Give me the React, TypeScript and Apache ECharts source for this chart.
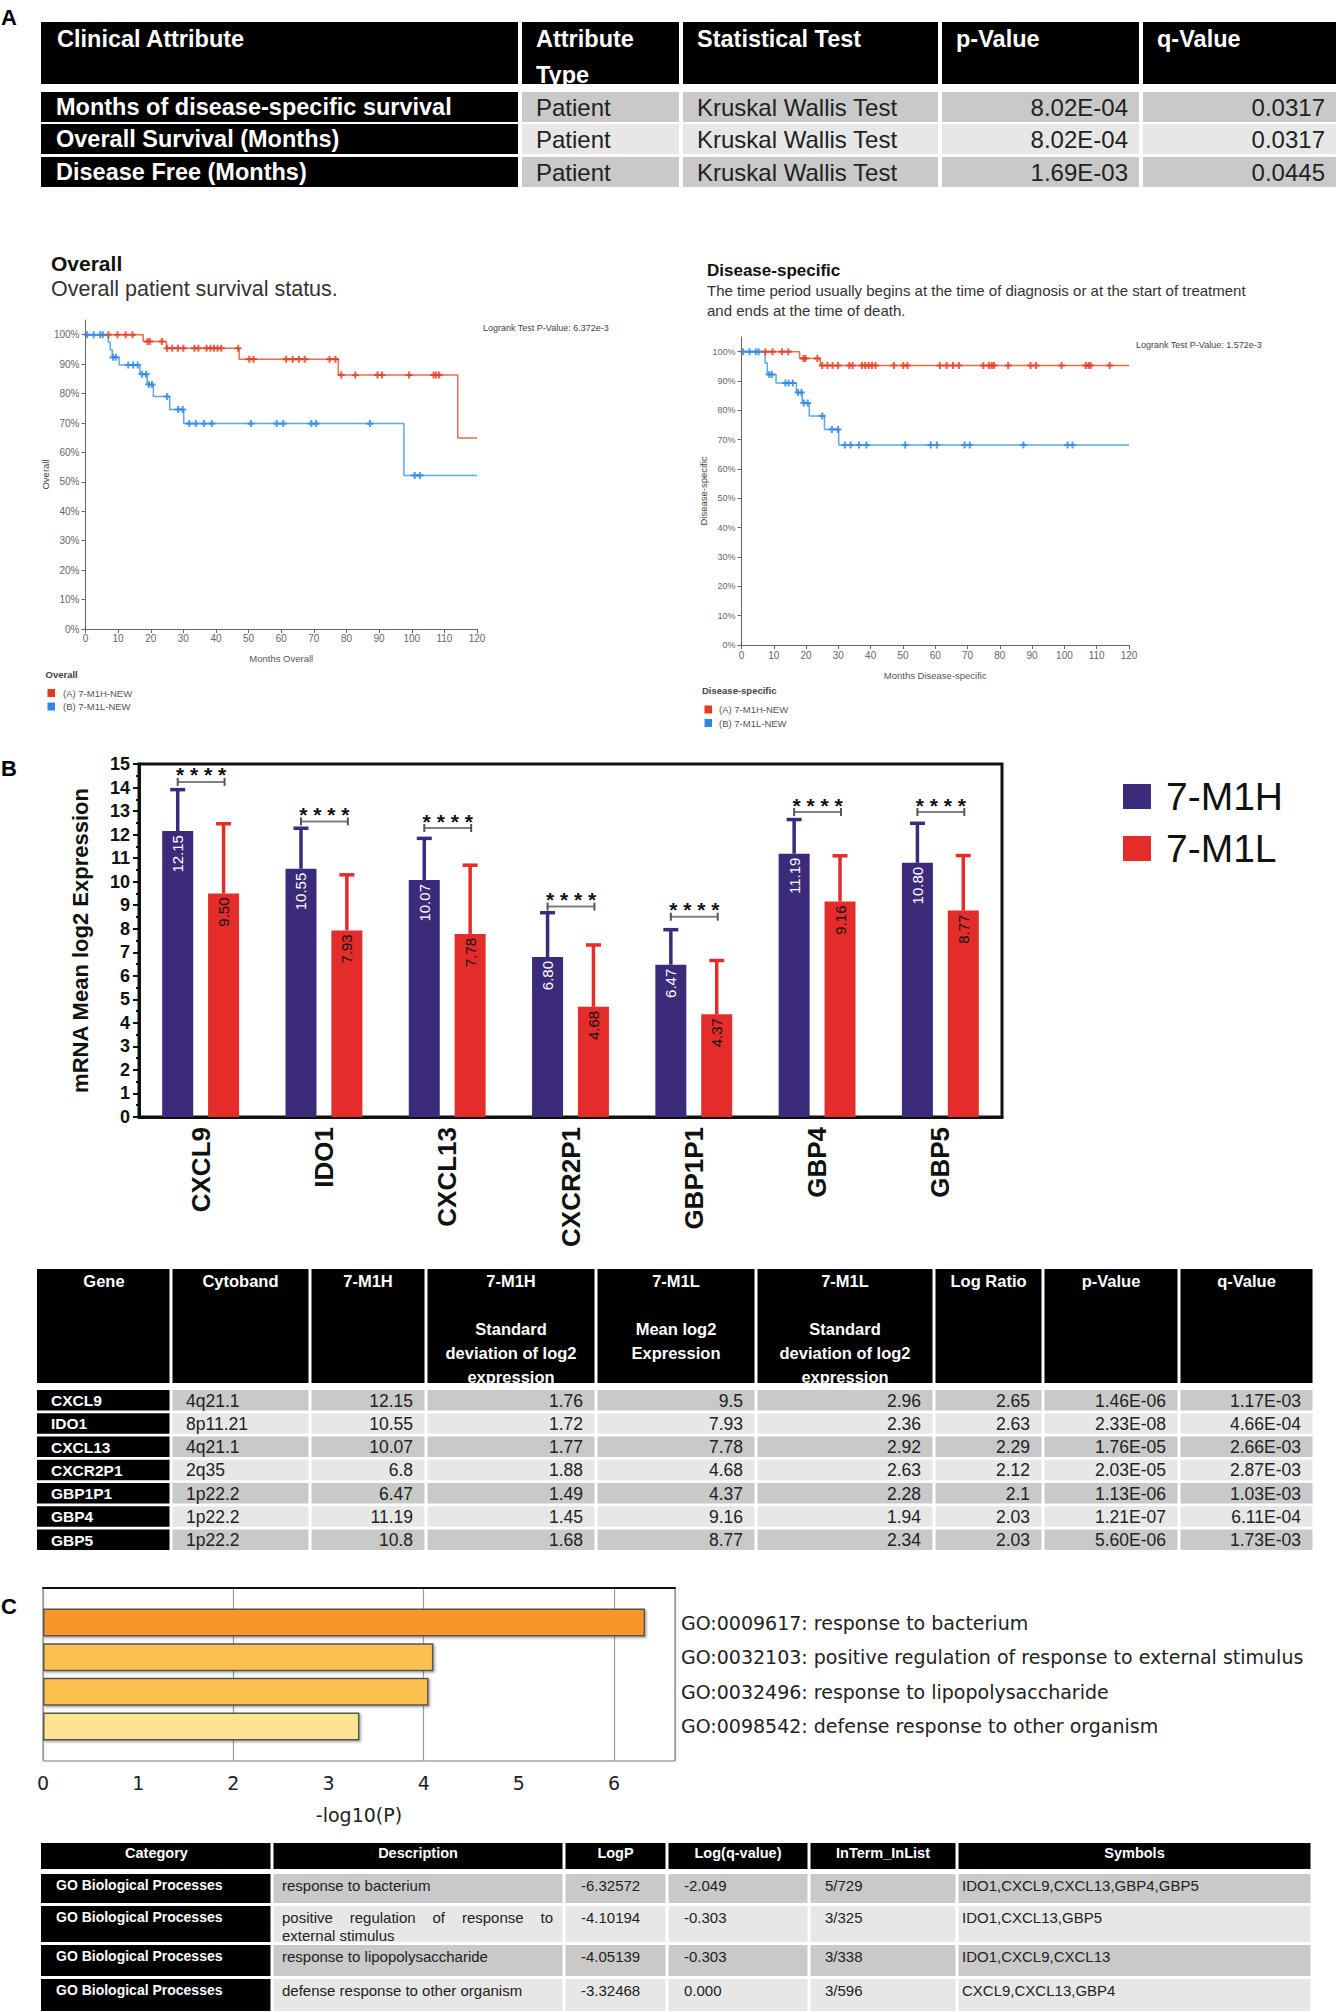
import React, { useEffect, useRef } from 'react';
import * as echarts from 'echarts';

// ---------------- DATA ----------------
// Panel A table
const tableAHeader = ['Clinical Attribute', 'Attribute\nType', 'Statistical Test', 'p-Value', 'q-Value'];
const tableAAttr = ['Months of disease-specific survival', 'Overall Survival (Months)', 'Disease Free (Months)'];
const tableAType = ['Patient', 'Patient', 'Patient'];
const tableATest = ['Kruskal Wallis Test', 'Kruskal Wallis Test', 'Kruskal Wallis Test'];
const tableAP = ['8.02E-04', '8.02E-04', '1.69E-03'];
const tableAQ = ['0.0317', '0.0317', '0.0445'];

// Kaplan-Meier curves: [month, survival %] at each drop
const kmGroups = ['(A) 7-M1H-NEW', '(B) 7-M1L-NEW'];
const kmPctTicks = [0, 10, 20, 30, 40, 50, 60, 70, 80, 90, 100];
const osHighSteps = [[0, 100], [17.7, 97.7], [24.8, 95.4], [47.1, 91.7], [77.5, 86.3], [114.1, 64.9], [120, 64.9]];
const osHighCensor = [7.0, 9.8, 12.3, 14.4, 19.0, 19.7, 23.4, 25.0, 26.6, 28.3, 30.0, 33.4, 34.6, 37.1, 38.3, 39.4, 40.5, 41.6, 46.8, 50.2, 51.5, 61.5, 63.5, 65.4, 67.2, 74.8, 76.6, 78.4, 82.7, 89.5, 90.9, 99.2, 106.7, 107.5, 108.4];
const osLowSteps = [[0, 100], [7.0, 97.4], [7.6, 94.9], [8.2, 92.3], [10.3, 89.7], [16.7, 86.6], [18.9, 83.1], [20.8, 79.0], [25.8, 74.6], [30.1, 69.8], [97.6, 52.2], [120, 52.2]];
const osLowCensor = [0.5, 2.5, 4.5, 5.3, 8.4, 9.3, 13.1, 14.6, 16.0, 17.3, 18.6, 19.4, 20.4, 25.0, 28.4, 29.8, 31.8, 33.8, 36.3, 38.7, 50.7, 58.6, 60.6, 69.2, 70.7, 87.2, 100.9, 102.5];
const dsHighSteps = [[0, 100], [18.0, 97.7], [24.4, 95.3], [120, 95.3]];
const dsHighCensor = [7.4, 9.6, 12.5, 14.5, 19.2, 19.8, 23.5, 25.0, 26.6, 28.2, 29.9, 33.4, 34.4, 37.3, 38.3, 39.4, 40.4, 41.5, 47.2, 50.1, 51.4, 61.4, 63.5, 65.5, 67.3, 74.9, 76.6, 77.5, 78.2, 82.6, 89.5, 91.2, 99.1, 106.6, 107.5, 108.1, 114.0];
const dsLowSteps = [[0, 100], [7.3, 96.1], [8.0, 92.2], [10.7, 89.3], [17.0, 86.1], [18.8, 82.5], [21.0, 78.1], [25.7, 73.5], [30.1, 68.2], [120, 68.2]];
const dsLowCensor = [0.5, 2.5, 4.4, 5.3, 8.6, 9.4, 13.6, 14.6, 15.9, 17.5, 18.6, 19.3, 20.5, 25.0, 28.0, 29.9, 32.0, 33.8, 36.4, 38.7, 50.7, 58.6, 60.5, 69.1, 70.7, 87.3, 101.0, 102.5];

// Panel B
const genes = ['CXCL9', 'IDO1', 'CXCL13', 'CXCR2P1', 'GBP1P1', 'GBP4', 'GBP5'];
const cytoband = ['4q21.1', '8p11.21', '4q21.1', '2q35', '1p22.2', '1p22.2', '1p22.2'];
const meanH = [12.15, 10.55, 10.07, 6.8, 6.47, 11.19, 10.8];
const sdH = [1.76, 1.72, 1.77, 1.88, 1.49, 1.45, 1.68];
const meanL = [9.5, 7.93, 7.78, 4.68, 4.37, 9.16, 8.77];
const sdL = [2.96, 2.36, 2.92, 2.63, 2.28, 1.94, 2.34];
const logRatio = [2.65, 2.63, 2.29, 2.12, 2.1, 2.03, 2.03];
const pValB = ['1.46E-06', '2.33E-08', '1.76E-05', '2.03E-05', '1.13E-06', '1.21E-07', '5.60E-06'];
const qValB = ['1.17E-03', '4.66E-04', '2.66E-03', '2.87E-03', '1.03E-03', '6.11E-04', '1.73E-03'];
const sigHeights = [14.24, 12.56, 12.28, 8.94, 8.51, 12.96, 12.96];
const sigText = '* * * *';
const tableBHeader = ['Gene', 'Cytoband', '7-M1H', '7-M1H\n\nStandard\ndeviation of log2\nexpression', '7-M1L\n\nMean log2\nExpression', '7-M1L\n\nStandard\ndeviation of log2\nexpression', 'Log Ratio', 'p-Value', 'q-Value'];

// Panel C
const goIds = ['GO:0009617', 'GO:0032103', 'GO:0032496', 'GO:0098542'];
const goDesc = ['response to bacterium', 'positive regulation of response to external stimulus', 'response to lipopolysaccharide', 'defense response to other organism'];
const goCategory = ['GO Biological Processes', 'GO Biological Processes', 'GO Biological Processes', 'GO Biological Processes'];
const goLogP = [-6.32572, -4.10194, -4.05139, -3.32468];
const goLogQ = ['-2.049', '-0.303', '-0.303', '0.000'];
const goInTerm = ['5/729', '3/325', '3/338', '3/596'];
const goSymbols = ['IDO1,CXCL9,CXCL13,GBP4,GBP5', 'IDO1,CXCL13,GBP5', 'IDO1,CXCL9,CXCL13', 'CXCL9,CXCL13,GBP4'];
const goTicks = [0, 1, 2, 3, 4, 5, 6];
const tableCHeader = ['Category', 'Description', 'LogP', 'Log(q-value)', 'InTerm_InList', 'Symbols'];

// ---------------- STYLE ----------------
const FONT = "'Liberation Sans', Arial, Helvetica, sans-serif";
const NARROW = "'Liberation Sans Narrow', 'Liberation Sans', Arial, sans-serif";
const DJV = "'DejaVu Sans', sans-serif";
const RED_LINE = '#ef6a50';
const RED_MARK = '#e2391f';
const BLUE_LINE = '#5aa8ee';
const BLUE_MARK = '#2c86e2';
const PURPLE = '#3c2a7b';
const BRED = '#e42c2b';
const GREY1 = '#c9c9c9';
const GREY2 = '#e7e7e7';
const PLUS = 'path://M0,2.1H6V3.9H0Z M2.1,0H3.9V6H2.1Z';
const goColors = ['#f8962c', '#fdbf4f', '#fdbf4f', '#fee392'];
const BAR_W = 31;
const BAR_GAP = 0.48;
const BAR_OFF = (BAR_W * (1 + BAR_GAP)) / 2;

function survAt(steps: number[][], t: number) {
  let s = steps[0][1];
  for (const [x, y] of steps) if (x <= t) s = y;
  return s;
}

const T = (x: number, y: number, text: string, o: any = {}) => ({
  type: 'text',
  x,
  y,
  silent: true,
  z: 20,
  style: {
    text,
    fill: o.fill ?? '#222',
    fontSize: o.size ?? 14,
    fontFamily: o.family ?? FONT,
    fontWeight: o.weight ?? 'normal',
    align: o.align ?? 'left',
    textAlign: o.align ?? 'left',
    verticalAlign: o.va ?? 'middle',
    textVerticalAlign: o.va ?? 'middle',
    lineHeight: o.lh,
  },
});
const R = (x: number, y: number, w: number, h: number, fill: string) => ({
  type: 'rect',
  silent: true,
  z: 10,
  shape: { x, y, width: w, height: h },
  style: { fill },
});

let measureCtx: CanvasRenderingContext2D | null = null;
function textW(s: string, font: string) {
  if (!measureCtx) measureCtx = document.createElement('canvas').getContext('2d');
  measureCtx!.font = font;
  return measureCtx!.measureText(s).width;
}

function wrapJustify(text: string, x0: number, x1: number, y: number, lh: number, size: number) {
  const font = `${size}px ${FONT}`;
  const words = text.split(' ');
  const lines: string[][] = [];
  let cur: string[] = [];
  for (const w of words) {
    const test = [...cur, w].join(' ');
    if (cur.length && textW(test, font) > x1 - x0) {
      lines.push(cur);
      cur = [w];
    } else cur.push(w);
  }
  if (cur.length) lines.push(cur);
  const out: any[] = [];
  lines.forEach((ln, li) => {
    const yy = y + li * lh;
    if (li === lines.length - 1 || ln.length === 1) {
      out.push(T(x0, yy, ln.join(' '), { size }));
    } else {
      const ws = ln.map((w) => textW(w, font));
      const gap = (x1 - x0 - ws.reduce((a, b) => a + b, 0)) / (ln.length - 1);
      let x = x0;
      ln.forEach((w, i) => {
        out.push(T(x, yy, w, { size }));
        x += ws[i] + gap;
      });
    }
  });
  return out;
}

function buildGraphics() {
  const g: any[] = [];
  // panel letters
  g.push(T(1, 17, 'A', { size: 22, weight: 'bold', fill: '#000' }));
  g.push(T(1, 768, 'B', { size: 22, weight: 'bold', fill: '#000' }));
  g.push(T(1, 1606, 'C', { size: 22, weight: 'bold', fill: '#000' }));

  // ---- Table A ----
  const cA = [41, 520, 681, 940, 1141, 1338];
  for (let i = 0; i < 5; i++) {
    const x0 = cA[i] + (i ? 2 : 0);
    const x1 = cA[i + 1] - 2;
    g.push(R(x0, 22, x1 - x0, 62, '#000'));
    g.push(T(cA[i] + 16, 21, tableAHeader[i], { size: 23.5, weight: 'bold', fill: '#fff', va: 'top', lh: 36 }));
  }
  const rAy = [92, 124, 157];
  const rAcols = [tableAAttr, tableAType, tableATest, tableAP, tableAQ];
  rAy.forEach((y, r) => {
    for (let i = 0; i < 5; i++) {
      const x0 = cA[i] + (i ? 2 : 0);
      const x1 = cA[i + 1] - 2;
      g.push(R(x0, y, x1 - x0, 30, i === 0 ? '#000' : r % 2 === 0 ? GREY1 : GREY2));
      const txt = rAcols[i][r];
      if (i === 0) g.push(T(56, y + 15, txt, { size: 23.5, weight: 'bold', fill: '#fff' }));
      else if (i < 3) g.push(T(cA[i] + 16, y + 15, txt, { size: 24, fill: '#222' }));
      else g.push(T(cA[i + 1] - 13, y + 15, txt, { size: 24, fill: '#222', align: 'right' }));
    }
  });

  // ---- KM titles / legends ----
  g.push(T(51, 263, 'Overall', { size: 21, weight: 'bold', fill: '#111' }));
  g.push(T(51, 289, 'Overall patient survival status.', { size: 21.5, fill: '#333' }));
  g.push(T(483, 328, 'Logrank Test P-Value: 6.372e-3', { size: 9, fill: '#444' }));
  g.push(T(45.5, 674, 'Overall', { size: 9.5, weight: 'bold', fill: '#444' }));
  g.push(R(47.5, 689, 7.5, 8, RED_MARK));
  g.push(T(63, 693, kmGroups[0], { size: 9.5, fill: '#555' }));
  g.push(R(47.5, 702.5, 7.5, 8, BLUE_MARK));
  g.push(T(63, 706, kmGroups[1], { size: 9.5, fill: '#555' }));

  g.push(T(707, 270, 'Disease-specific', { size: 17, weight: 'bold', fill: '#111' }));
  g.push(
    T(707, 280, 'The time period usually begins at the time of diagnosis or at the start of treatment\nand ends at the time of death.', {
      size: 15,
      fill: '#333',
      va: 'top',
      lh: 20,
    })
  );
  g.push(T(1136, 345, 'Logrank Test P-Value: 1.572e-3', { size: 9, fill: '#444' }));
  g.push(T(702, 690, 'Disease-specific', { size: 9.5, weight: 'bold', fill: '#444' }));
  g.push(R(704.5, 705.5, 7.5, 8, RED_MARK));
  g.push(T(719, 709.5, kmGroups[0], { size: 9.5, fill: '#555' }));
  g.push(R(704.5, 719, 7.5, 8, BLUE_MARK));
  g.push(T(719, 723, kmGroups[1], { size: 9.5, fill: '#555' }));

  // ---- Table B ----
  const cB = [37, 171, 310, 426, 596, 756, 934, 1043, 1179, 1314];
  for (let i = 0; i < 9; i++) {
    const x0 = cB[i] + (i ? 1.5 : 0);
    const x1 = cB[i + 1] - 1.5;
    g.push(R(x0, 1269, x1 - x0, 114, '#000'));
    g.push(T((cB[i] + cB[i + 1]) / 2, 1269, tableBHeader[i], { size: 16.5, weight: 'bold', fill: '#fff', align: 'center', va: 'top', lh: 24 }));
  }
  genes.forEach((gene, r) => {
    const y = 1390 + r * 23.25;
    const vals = [gene, cytoband[r], String(meanH[r]), String(sdH[r]), String(meanL[r]), String(sdL[r]), String(logRatio[r]), pValB[r], qValB[r]];
    for (let i = 0; i < 9; i++) {
      const x0 = cB[i] + (i ? 1.5 : 0);
      const x1 = cB[i + 1] - 1.5;
      g.push(R(x0, y, x1 - x0, 20.5, i === 0 ? '#000' : r % 2 === 0 ? GREY1 : GREY2));
      const cy = y + 10.5;
      if (i === 0) g.push(T(51, cy, vals[i], { size: 15.5, weight: 'bold', fill: '#fff' }));
      else if (i === 1) g.push(T(186, cy, vals[i], { size: 17.5, fill: '#222' }));
      else g.push(T(cB[i + 1] - 13, cy, vals[i], { size: 17.5, fill: '#222', align: 'right' }));
    }
  });

  // ---- Table C ----
  const cC = [41, 272, 564, 667, 809, 957, 1312];
  for (let i = 0; i < 6; i++) {
    const x0 = cC[i] + (i ? 1.5 : 0);
    const x1 = cC[i + 1] - 1.5;
    g.push(R(x0, 1843, x1 - x0, 26, '#000'));
    g.push(T((cC[i] + cC[i + 1]) / 2, 1853, tableCHeader[i], { size: 14.5, weight: 'bold', fill: '#fff', align: 'center' }));
  }
  const rC = [
    [1874, 29],
    [1906, 36],
    [1945, 31],
    [1979, 32],
  ];
  const textX = [56, 282, 581, 684, 825, 962];
  rC.forEach(([y, h], r) => {
    const vals = [goCategory[r], goDesc[r], goLogP[r].toFixed(5), goLogQ[r], goInTerm[r], goSymbols[r]];
    for (let i = 0; i < 6; i++) {
      const x0 = cC[i] + (i ? 1.5 : 0);
      const x1 = cC[i + 1] - 1.5;
      g.push(R(x0, y, x1 - x0, h, i === 0 ? '#000' : r % 2 === 0 ? GREY1 : GREY2));
      const cy = y + 11;
      if (i === 0) g.push(T(textX[i], cy, vals[i], { size: 14, weight: 'bold', fill: '#fff' }));
      else if (i === 1) wrapJustify(vals[i], textX[i], 553, cy, 18.5, 15).forEach((e) => g.push(e));
      else g.push(T(textX[i], cy, vals[i], { size: 15, fill: '#222' }));
    }
  });
  return g;
}

function kmX(gi: number, name: string, gap: number, margin: number) {
  return {
    gridIndex: gi,
    type: 'value',
    min: 0,
    max: 120,
    interval: 10,
    name,
    nameLocation: 'middle',
    nameGap: gap,
    nameTextStyle: { fontSize: 9.5, color: '#555', fontFamily: FONT },
    axisLine: { lineStyle: { color: '#666', width: 1 } },
    axisTick: { length: 4, lineStyle: { color: '#666' } },
    axisLabel: { fontSize: 10, color: '#666', margin, fontFamily: FONT },
    splitLine: { show: false },
  };
}
function kmY(gi: number, name: string, gap: number, size: number) {
  return {
    gridIndex: gi,
    type: 'value',
    min: 0,
    max: 105,
    interval: 10,
    name,
    nameLocation: 'middle',
    nameRotate: 90,
    nameGap: gap,
    nameTextStyle: { fontSize: 9.5, color: '#444', fontFamily: FONT },
    axisLine: { show: true, lineStyle: { color: '#666', width: 1 } },
    axisTick: { show: true, length: 4, lineStyle: { color: '#666' }, customValues: kmPctTicks },
    axisLabel: {
      fontSize: size,
      color: '#666',
      margin: 6,
      fontFamily: FONT,
      customValues: kmPctTicks,
      formatter: (v: number) => (v > 100 ? '' : v + '%'),
    },
    splitLine: { show: false },
  };
}

function kmSeries(gi: number, steps: number[][], censor: number[], name: string, lineC: string, markC: string) {
  return [
    {
      type: 'line',
      name,
      xAxisIndex: gi,
      yAxisIndex: gi,
      data: steps,
      step: 'end',
      symbol: 'none',
      lineStyle: { color: lineC, width: 1.5 },
      z: 2,
    },
    {
      type: 'scatter',
      name: name + ' censored',
      xAxisIndex: gi,
      yAxisIndex: gi,
      data: censor.map((t) => [t, survAt(steps, t)]),
      symbol: PLUS,
      symbolSize: 7,
      itemStyle: { color: markC },
      z: 3,
    },
  ];
}

function errSeries(name: string, means: number[], sds: number[], sign: number, color: string) {
  return {
    type: 'custom',
    name,
    xAxisIndex: 2,
    yAxisIndex: 2,
    encode: { x: 0, y: 1 },
    z: 1,
    data: means.map((m, i) => [i, m, sds[i]]),
    renderItem: (_p: any, api: any) => {
      const i = api.value(0);
      const m = api.value(1);
      const s = api.value(2);
      const p0 = api.coord([i, m]);
      const p1 = api.coord([i, m + s]);
      const x = p0[0] + sign * BAR_OFF;
      return {
        type: 'group',
        children: [
          { type: 'line', shape: { x1: x, y1: p0[1], x2: x, y2: p1[1] }, style: { stroke: color, lineWidth: 3.5 } },
          { type: 'line', shape: { x1: x - 7.5, y1: p1[1], x2: x + 7.5, y2: p1[1] }, style: { stroke: color, lineWidth: 3.5 } },
        ],
      };
    },
  };
}

function buildOption() {
  const goLabels = goIds.map((id, i) => `${id}: ${goDesc[i]}`);
  return {
    animation: false,
    backgroundColor: '#fff',
    textStyle: { fontFamily: FONT },
    graphic: { elements: buildGraphics() },
    legend: [
      {
        data: [
          { name: '7-M1H', itemStyle: { color: PURPLE } },
          { name: '7-M1L', itemStyle: { color: BRED } },
        ],
        orient: 'vertical',
        left: 1118,
        top: 772,
        itemWidth: 28,
        itemHeight: 25,
        itemGap: 13,
        icon: 'rect',
        selectedMode: false,
        textStyle: { fontSize: 39, color: '#111', fontFamily: FONT, lineHeight: 25, padding: [0, 0, 0, 10] },
      },
    ],
    grid: [
      { left: 85.5, top: 320, width: 391.5, height: 309 },
      { left: 741.5, top: 337, width: 387.5, height: 308 },
      { left: 139, top: 764, width: 863, height: 353, show: true, borderColor: '#111', borderWidth: 3 },
      { left: 43, top: 1588, width: 632, height: 173, show: true, borderColor: '#777', borderWidth: 1 },
    ],
    xAxis: [
      kmX(0, 'Months Overall', 24.5, 4),
      kmX(1, 'Months Disease-specific', 25.5, 5),
      {
        gridIndex: 2,
        type: 'category',
        data: genes,
        axisLine: { lineStyle: { color: '#111', width: 3 } },
        axisTick: { alignWithLabel: true, length: 6, lineStyle: { color: '#111', width: 2.5 } },
        axisLabel: { rotate: 90, interval: 0, fontSize: 26, fontWeight: 'bold', color: '#111', margin: 10, fontFamily: FONT },
      },
      {
        gridIndex: 3,
        type: 'value',
        min: 0,
        max: 6.64,
        interval: 1,
        name: '-log10(P)',
        nameLocation: 'middle',
        nameGap: 44,
        nameTextStyle: { fontSize: 19, color: '#222', fontFamily: DJV },
        axisLine: { lineStyle: { color: '#111', width: 2 } },
        axisTick: { length: 6, lineStyle: { color: '#222' }, customValues: goTicks },
        axisLabel: {
          fontSize: 19,
          color: '#222',
          margin: 12,
          fontFamily: DJV,
          customValues: goTicks,
          formatter: (v: number) => (Number.isInteger(v) ? String(v) : ''),
        },
        splitLine: { show: false },
      },
      {
        gridIndex: 3,
        type: 'value',
        position: 'top',
        min: 0,
        max: 6.64,
        interval: 2,
        axisLine: { show: true, lineStyle: { color: '#111', width: 2 } },
        axisTick: { show: false },
        axisLabel: { show: false },
        splitLine: { show: true, lineStyle: { color: '#9a9a9a', width: 1.2 } },
      },
    ],
    yAxis: [
      kmY(0, 'Overall', 33, 10),
      kmY(1, 'Disease-specific', 32, 9),
      {
        gridIndex: 2,
        type: 'value',
        min: 0,
        max: 15,
        interval: 1,
        name: 'mRNA Mean log2 Expression',
        nameLocation: 'middle',
        nameRotate: 90,
        nameGap: 48,
        nameTextStyle: { fontSize: 22, fontWeight: 'bold', color: '#111', fontFamily: FONT },
        axisLine: { show: true, lineStyle: { color: '#111', width: 3 } },
        axisTick: { show: true, length: 6, lineStyle: { color: '#111', width: 2 } },
        minorTick: { show: true, splitNumber: 2, length: 3, lineStyle: { color: '#111', width: 2 } },
        axisLabel: { fontSize: 18, fontWeight: 'bold', color: '#111', margin: 9, fontFamily: FONT },
        splitLine: { show: false },
      },
      {
        gridIndex: 3,
        type: 'category',
        inverse: true,
        boundaryGap: false,
        position: 'right',
        data: ['', ...goLabels, ''],
        axisLine: { show: false },
        axisTick: { show: false },
        axisLabel: { fontSize: 19, color: '#222', margin: 6, fontFamily: DJV, align: 'left' },
        splitLine: { show: false },
      },
    ],
    series: [
      ...kmSeries(0, osHighSteps, osHighCensor, kmGroups[0], RED_LINE, RED_MARK),
      ...kmSeries(0, osLowSteps, osLowCensor, kmGroups[1], BLUE_LINE, BLUE_MARK),
      ...kmSeries(1, dsHighSteps, dsHighCensor, kmGroups[0], RED_LINE, RED_MARK),
      ...kmSeries(1, dsLowSteps, dsLowCensor, kmGroups[1], BLUE_LINE, BLUE_MARK),
      {
        type: 'bar',
        name: '7-M1H',
        xAxisIndex: 2,
        yAxisIndex: 2,
        data: meanH,
        barWidth: BAR_W,
        barGap: `${BAR_GAP * 100}%`,
        itemStyle: { color: PURPLE },
        z: 3,
        label: {
          show: true,
          position: 'insideTop',
          rotate: 90,
          align: 'right',
          verticalAlign: 'middle',
          distance: 4,
          color: '#fff',
          fontSize: 15,
          fontFamily: NARROW,
          formatter: (p: any) => Number(p.value).toFixed(2),
        },
      },
      {
        type: 'bar',
        name: '7-M1L',
        xAxisIndex: 2,
        yAxisIndex: 2,
        data: meanL,
        barWidth: BAR_W,
        barGap: `${BAR_GAP * 100}%`,
        itemStyle: { color: BRED },
        z: 3,
        label: {
          show: true,
          position: 'insideTop',
          rotate: 90,
          align: 'right',
          verticalAlign: 'middle',
          distance: 4,
          color: '#111',
          fontSize: 15,
          fontFamily: NARROW,
          formatter: (p: any) => Number(p.value).toFixed(2),
        },
      },
      errSeries('err H', meanH, sdH, -1, PURPLE),
      errSeries('err L', meanL, sdL, 1, BRED),
      {
        type: 'custom',
        name: 'significance',
        xAxisIndex: 2,
        yAxisIndex: 2,
        encode: { x: 0, y: 1 },
        z: 4,
        data: sigHeights.map((h, i) => [i, h]),
        renderItem: (_p: any, api: any) => {
          const c = api.coord([api.value(0), api.value(1)]);
          const xa = c[0] - BAR_OFF;
          const xb = c[0] + BAR_OFF + 1;
          return {
            type: 'group',
            children: [
              { type: 'line', shape: { x1: xa, y1: c[1], x2: xb, y2: c[1] }, style: { stroke: '#808080', lineWidth: 2 } },
              { type: 'line', shape: { x1: xa, y1: c[1] - 4, x2: xa, y2: c[1] + 4 }, style: { stroke: '#555', lineWidth: 2 } },
              { type: 'line', shape: { x1: xb, y1: c[1] - 4, x2: xb, y2: c[1] + 4 }, style: { stroke: '#555', lineWidth: 2 } },
              {
                type: 'text',
                x: (xa + xb) / 2,
                y: c[1] - 7,
                style: {
                  text: sigText,
                  fill: '#111',
                  fontSize: 21,
                  fontWeight: 'bold',
                  fontFamily: FONT,
                  align: 'center',
                  verticalAlign: 'middle',
                  textAlign: 'center',
                  textVerticalAlign: 'middle',
                },
              },
            ],
          };
        },
      },
      {
        type: 'bar',
        name: 'GO enrichment',
        xAxisIndex: 3,
        yAxisIndex: 3,
        barWidth: 28,
        data: ['-', ...goLogP.map((v, i) => ({ value: -v, itemStyle: { color: goColors[i] } })), '-'],
        itemStyle: {
          borderColor: '#555',
          borderWidth: 1.5,
          shadowColor: 'rgba(0,0,0,0.35)',
          shadowBlur: 2,
          shadowOffsetX: 1.5,
          shadowOffsetY: 1.5,
        },
        z: 3,
      },
    ],
  };
}

export default function App() {
  const ref = useRef<HTMLDivElement>(null);
  useEffect(() => {
    document.body.style.margin = '0';
    document.body.style.overflow = 'hidden';
    const chart = echarts.init(ref.current!, null, { renderer: 'svg', width: 1340, height: 2012 });
    chart.setOption(buildOption() as any);
    return () => chart.dispose();
  }, []);
  return <div ref={ref} style={{ position: 'absolute', left: 0, top: 0, width: 1340, height: 2012, background: '#fff' }} />;
}
